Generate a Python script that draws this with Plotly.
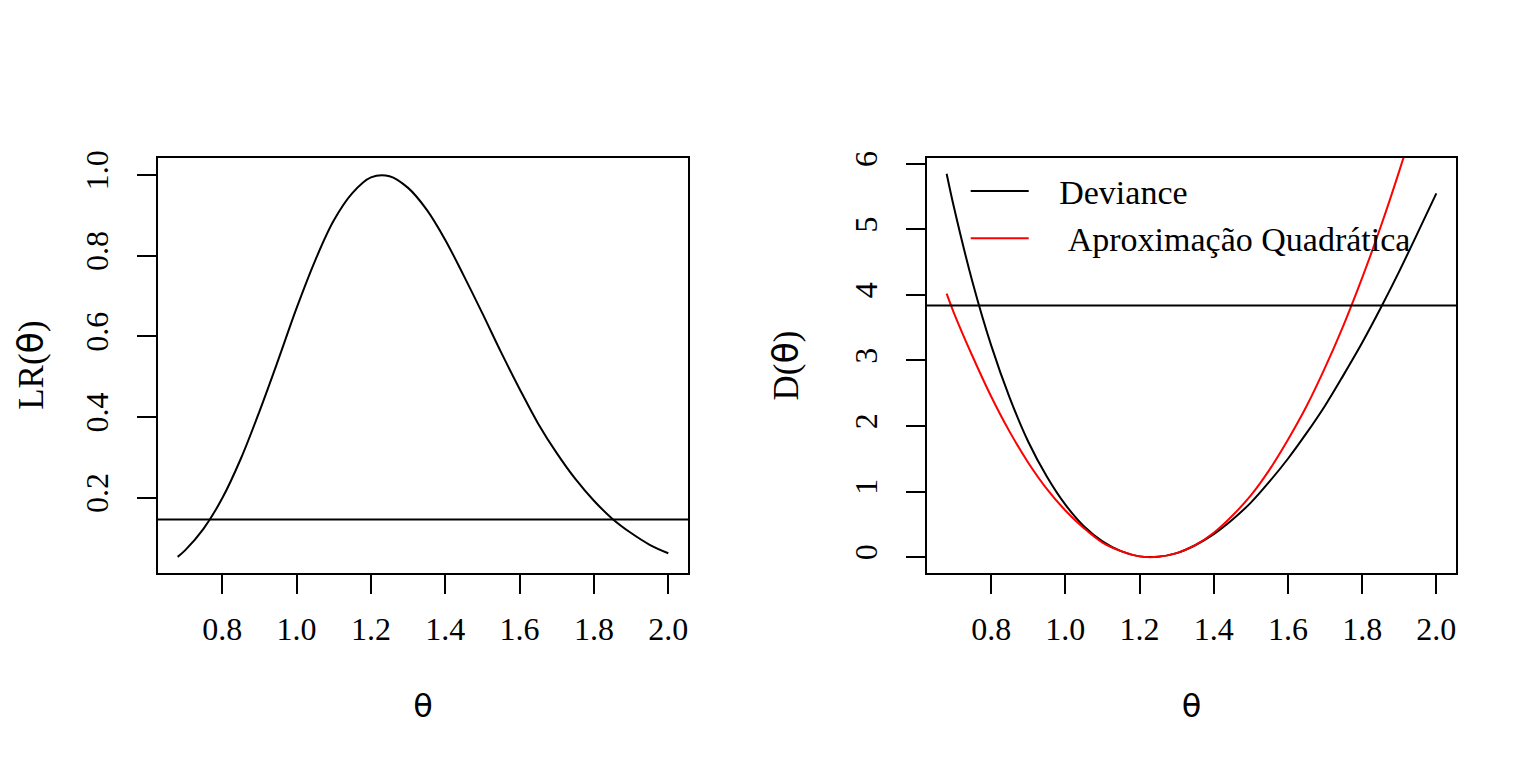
import plotly.graph_objects as go
from plotly.subplots import make_subplots

# theta grid
theta = [0.68, 0.70, 0.75, 0.80, 0.85, 0.90, 0.95, 1.00, 1.05, 1.10, 1.15, 1.20,
         1.25, 1.30, 1.35, 1.40, 1.45, 1.50, 1.55, 1.60, 1.65, 1.70, 1.75, 1.80, 1.85,
         1.90, 1.95, 2.00]

# relative likelihood LR(theta)
lr = [0.054, 0.070, 0.124, 0.199, 0.297, 0.414, 0.540, 0.670, 0.788, 0.887, 0.955, 0.994,
      0.997, 0.968, 0.914, 0.839, 0.750, 0.657, 0.561, 0.470, 0.384, 0.311, 0.247, 0.193, 0.148,
      0.113, 0.084, 0.063]

# deviance D(theta)
deviance = [5.85, 5.33, 4.19, 3.23, 2.43, 1.76, 1.23, 0.80, 0.47, 0.24, 0.09, 0.01,
            0.005, 0.06, 0.18, 0.35, 0.57, 0.83, 1.15, 1.50, 1.89, 2.31, 2.78, 3.27, 3.80,
            4.36, 4.95, 5.55]

# quadratic approximation
quad = [4.02, 3.72, 3.06, 2.45, 1.91, 1.44, 1.04, 0.71, 0.44, 0.22, 0.09, 0.01,
        0.004, 0.06, 0.18, 0.37, 0.63, 0.94, 1.33, 1.79, 2.30, 2.89, 3.54, 4.26, 5.04,
        5.89, 6.80, 7.79]

lr_cut = 0.1465
dev_cut = 3.84

x_ticks = [0.8, 1.0, 1.2, 1.4, 1.6, 1.8, 2.0]
x_labels = ["0.8", "1.0", "1.2", "1.4", "1.6", "1.8", "2.0"]
lr_ticks = [0.2, 0.4, 0.6, 0.8, 1.0]
lr_labels = ["0.2", "0.4", "0.6", "0.8", "1.0"]
dev_ticks = [0, 1, 2, 3, 4, 5, 6]
dev_labels = ["0", "1", "2", "3", "4", "5", "6"]

SERIF = "Liberation Serif"
SANS = "DejaVu Sans"
TH = "<span style='font-family:DejaVu Sans'>θ</span>"
NB = "\u00a0"

fig = make_subplots(rows=1, cols=2)

fig.add_trace(go.Scatter(x=theta, y=lr, mode="lines", line=dict(color="black", width=2, shape="spline"),
                         showlegend=False), row=1, col=1)
fig.add_trace(go.Scatter(x=theta, y=deviance, mode="lines", name=NB * 3 + "Deviance",
                         line=dict(color="black", width=2, shape="spline")), row=1, col=2)
fig.add_trace(go.Scatter(x=theta, y=quad, mode="lines", name=NB * 4 + "Aproximação Quadrática",
                         line=dict(color="red", width=2, shape="spline")), row=1, col=2)

fig.add_hline(y=lr_cut, line=dict(color="black", width=2), row=1, col=1)
fig.add_hline(y=dev_cut, line=dict(color="black", width=2), row=1, col=2)

axis_style = dict(showline=True, mirror=True, linecolor="black", linewidth=2, showgrid=False,
                  zeroline=False, ticks="outside", ticklen=19, tickwidth=2, tickcolor="black",
                  automargin=False,
                  tickfont=dict(family=SERIF, size=32, color="black"))

fig.update_xaxes(**axis_style, range=[0.627, 2.053], tickvals=x_ticks, ticktext=x_labels,
                 ticklabelstandoff=8,
                 title=dict(text="θ", font=dict(family=SANS, size=32, color="black"), standoff=48))
fig.update_xaxes(domain=[0.0976, 0.4427], row=1, col=1)
fig.update_xaxes(domain=[0.5983, 0.9427], row=1, col=2)

fig.update_yaxes(**axis_style, tickangle=-90, ticklabelstandoff=16)
fig.update_yaxes(domain=[0.2643, 0.8047])
fig.update_yaxes(range=[0.014, 1.042], tickvals=lr_ticks, ticktext=lr_labels, row=1, col=1)
fig.update_yaxes(range=[-0.244, 6.09], tickvals=dev_ticks, ticktext=dev_labels,
                 title=dict(text="D(" + TH + ")", font=dict(family=SERIF, size=35, color="black"),
                            standoff=39), row=1, col=2)

# left y title placed by hand
fig.add_annotation(text="LR(" + TH + ")", xref="paper", yref="paper", x=0.0145, y=0.5345,
                   textangle=-90, showarrow=False, xanchor="center", yanchor="middle",
                   font=dict(family=SERIF, size=35, color="black"))

fig.update_layout(
    width=1536, height=768,
    margin=dict(l=0, r=0, t=0, b=0),
    plot_bgcolor="white", paper_bgcolor="white",
    legend=dict(x=0.6235, y=0.799, xanchor="left", yanchor="top", bgcolor="rgba(0,0,0,0)",
                font=dict(family=SERIF, size=34, color="black"), itemwidth=58,
                tracegroupgap=0),
)

fig.write_html("out.html")
